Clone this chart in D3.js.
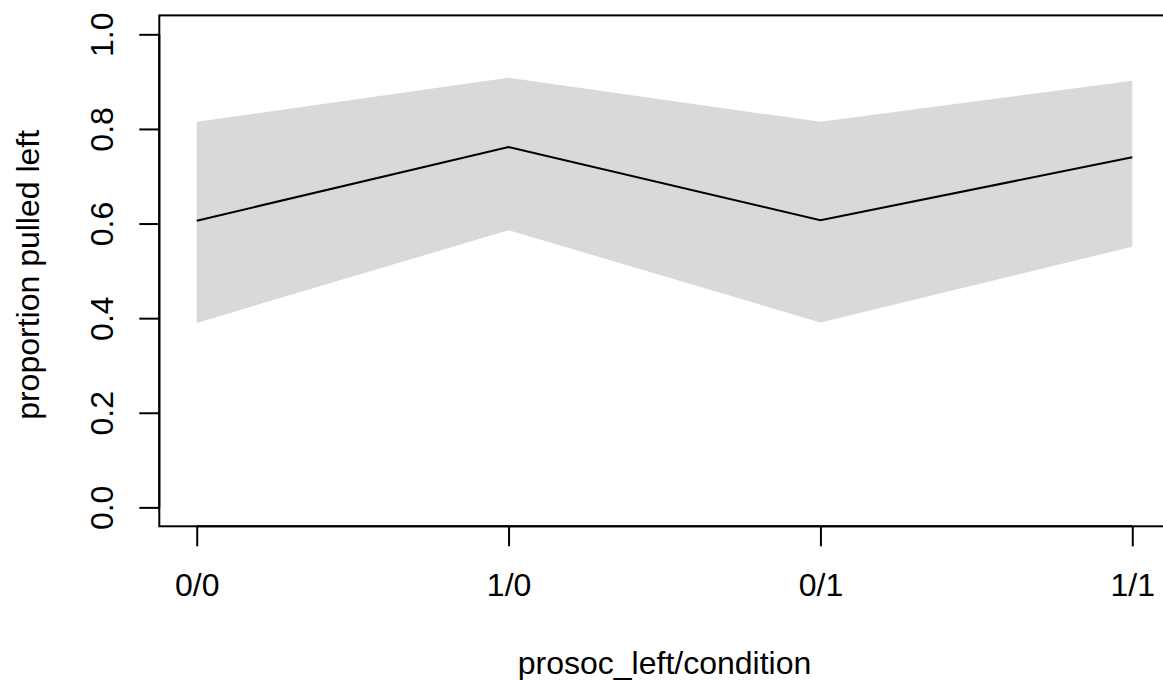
<!DOCTYPE html>
<html lang="en">
<head>
    <meta charset="UTF-8">
    <title>proportion pulled left</title>
    <script src="https://d3js.org/d3.v7.min.js"></script>
    <style>
        body { margin: 0; background: white; }
        svg text { font-family: "Liberation Sans", Arial, sans-serif; font-size: 32px; fill: black; }
    </style>
</head>
<body>
    <script>
        // data
        const conditions = ["0/0", "1/0", "0/1", "1/1"];
        const meanProp = [0.606, 0.762, 0.607, 0.740];
        const lowerProp = [0.390, 0.586, 0.391, 0.551];
        const upperProp = [0.815, 0.908, 0.815, 0.902];
        const yTicks = [0, 0.2, 0.4, 0.6, 0.8, 1.0];

        const W = 1163, H = 680;
        // plot region (R style, 4% padding on each axis)
        const plot = {left: 159.3, right: 1169.7, top: 15.4, bottom: 526.3};

        const svg = d3.select("body").append("svg")
            .attr("width", W)
            .attr("height", H);

        const x = d3.scaleLinear().domain([0.88, 4.12]).range([plot.left, plot.right]);
        const y = d3.scaleLinear().domain([-0.04, 1.04]).range([plot.bottom, plot.top]);

        const rows = conditions.map((c, i) => ({
            pos: i + 1, label: c, mean: meanProp[i], lo: lowerProp[i], hi: upperProp[i]
        }));

        // shaded interval
        svg.append("path")
            .datum(rows)
            .attr("fill", "#d9d9d9")
            .attr("stroke", "none")
            .attr("d", d3.area().x(d => x(d.pos)).y0(d => y(d.lo)).y1(d => y(d.hi)));

        // mean line
        svg.append("path")
            .datum(rows)
            .attr("fill", "none")
            .attr("stroke", "black")
            .attr("stroke-width", 2)
            .attr("d", d3.line().x(d => x(d.pos)).y(d => y(d.mean)));

        // box
        svg.append("rect")
            .attr("x", plot.left)
            .attr("y", plot.top)
            .attr("width", plot.right - plot.left)
            .attr("height", plot.bottom - plot.top)
            .attr("fill", "none")
            .attr("stroke", "black")
            .attr("stroke-width", 2);

        // x axis
        const xAxis = svg.append("g")
            .attr("transform", `translate(0,${plot.bottom})`)
            .call(d3.axisBottom(x)
                .tickValues(rows.map(d => d.pos))
                .tickFormat((d, i) => conditions[i])
                .tickSize(20)
                .tickPadding(0));
        xAxis.select(".domain").attr("d", `M${x(1)},0H${x(4)}`).attr("stroke-width", 2);
        xAxis.selectAll(".tick line").attr("stroke-width", 2);
        xAxis.selectAll(".tick text")
            .attr("y", 69.5)
            .attr("dy", null)
            .style("font-size", "32px");

        // y axis
        const yAxis = svg.append("g")
            .attr("transform", `translate(${plot.left},0)`)
            .call(d3.axisLeft(y)
                .tickValues(yTicks)
                .tickFormat(d3.format(".1f"))
                .tickSize(20));
        yAxis.select(".domain").attr("d", `M0,${y(0)}V${y(1)}`).attr("stroke-width", 2);
        yAxis.selectAll(".tick line").attr("stroke-width", 2);
        yAxis.selectAll(".tick text")
            .attr("x", null)
            .attr("dy", null)
            .attr("text-anchor", "middle")
            .attr("transform", "translate(-46.5,0) rotate(-90)")
            .style("font-size", "32px");

        // axis titles
        svg.append("text")
            .attr("x", (plot.left + plot.right) / 2)
            .attr("y", 673.5)
            .attr("text-anchor", "middle")
            .text("prosoc_left/condition");

        svg.append("text")
            .attr("transform", `translate(39,${(plot.top + plot.bottom) / 2 + 4}) rotate(-90)`)
            .attr("text-anchor", "middle")
            .text("proportion pulled left");
    </script>
</body>
</html>
